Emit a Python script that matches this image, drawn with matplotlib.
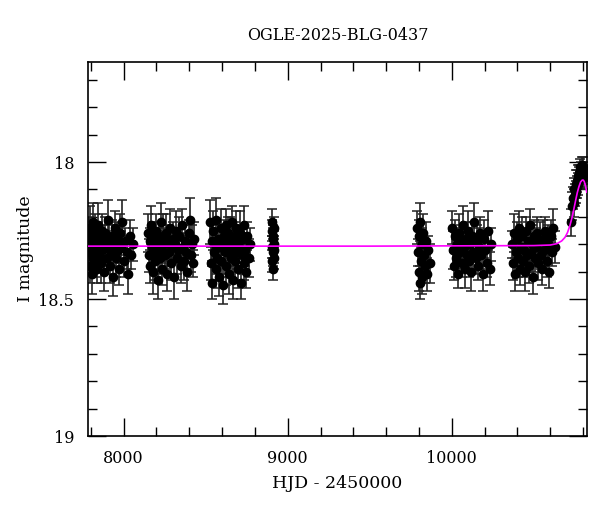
import matplotlib
matplotlib.use('Agg')
import matplotlib.pyplot as plt
from matplotlib.ticker import MultipleLocator, FuncFormatter

# OGLE-2025-BLG-0437 light curve, one block of points per observing season
s1_hjd = [7786, 7790, 7794, 7797, 7801, 7805, 7808, 7812, 7816, 7820, 7823, 7827, 7832, 7836, 7841, 7845,
          7850, 7855, 7860, 7866, 7871, 7877, 7882, 7888, 7893, 7899, 7905, 7911, 7917, 7923, 7929, 7935,
          7941, 7947, 7953, 7960, 7966, 7972, 7979, 7986, 7993, 8001, 8009, 8018, 8027, 8036, 8046, 8055]
s1_mag = [18.33, 18.27, 18.38, 18.24, 18.31, 18.41, 18.29, 18.35, 18.22, 18.30, 18.36, 18.26, 18.33, 18.39, 18.28, 18.23,
          18.34, 18.30, 18.37, 18.25, 18.32, 18.28, 18.40, 18.26, 18.31, 18.35, 18.21, 18.29, 18.38, 18.33, 18.27, 18.42,
          18.30, 18.24, 18.35, 18.28, 18.32, 18.39, 18.26, 18.31, 18.22, 18.36, 18.29, 18.33, 18.41, 18.27, 18.34, 18.30]
s1_err = [0.06, 0.07, 0.06, 0.08, 0.05, 0.07, 0.06, 0.06, 0.07, 0.05, 0.06, 0.07, 0.06, 0.05, 0.06, 0.08,
          0.06, 0.05, 0.07, 0.06, 0.06, 0.05, 0.07, 0.06, 0.05, 0.06, 0.07, 0.06, 0.06, 0.05, 0.06, 0.07,
          0.05, 0.06, 0.07, 0.06, 0.05, 0.06, 0.07, 0.06, 0.08, 0.06, 0.05, 0.06, 0.07, 0.06, 0.05, 0.06]

s2_hjd = [8148, 8153, 8158, 8163, 8168, 8173, 8178, 8183, 8188, 8193, 8198, 8203, 8208, 8214, 8219, 8225,
          8230, 8236, 8241, 8247, 8253, 8259, 8265, 8271, 8277, 8283, 8289, 8295, 8301, 8307, 8313, 8320,
          8326, 8333, 8340, 8347, 8354, 8361, 8368, 8375, 8382, 8389, 8396, 8403, 8410, 8417, 8424, 8431]
s2_mag = [18.26, 18.34, 18.29, 18.38, 18.23, 18.31, 18.40, 18.27, 18.33, 18.36, 18.25, 18.30, 18.43, 18.28, 18.35, 18.22,
          18.32, 18.39, 18.27, 18.30, 18.34, 18.26, 18.41, 18.29, 18.33, 18.24, 18.37, 18.31, 18.28, 18.42, 18.30, 18.25,
          18.35, 18.32, 18.27, 18.38, 18.23, 18.31, 18.36, 18.29, 18.33, 18.40, 18.26, 18.21, 18.34, 18.30, 18.37, 18.28]
s2_err = [0.07, 0.06, 0.05, 0.06, 0.07, 0.06, 0.08, 0.05, 0.06, 0.07, 0.06, 0.05, 0.07, 0.06, 0.06, 0.07,
          0.05, 0.06, 0.08, 0.06, 0.05, 0.07, 0.06, 0.06, 0.05, 0.07, 0.06, 0.05, 0.06, 0.08, 0.06, 0.07,
          0.06, 0.05, 0.07, 0.06, 0.06, 0.05, 0.07, 0.06, 0.06, 0.07, 0.05, 0.08, 0.06, 0.07, 0.05, 0.06]

s3_hjd = [8526, 8531, 8536, 8541, 8546, 8551, 8556, 8561, 8566, 8571, 8576, 8581, 8586, 8591, 8596, 8601,
          8606, 8611, 8616, 8621, 8626, 8631, 8636, 8641, 8646, 8651, 8656, 8661, 8666, 8671, 8676, 8681,
          8686, 8691, 8696, 8701, 8706, 8711, 8716, 8721, 8726, 8731, 8736, 8741, 8748, 8755, 8762, 8770]
s3_mag = [18.22, 18.37, 18.29, 18.44, 18.25, 18.33, 18.30, 18.39, 18.21, 18.35, 18.28, 18.42, 18.31, 18.24, 18.36, 18.29,
          18.45, 18.27, 18.33, 18.23, 18.38, 18.30, 18.26, 18.41, 18.32, 18.28, 18.35, 18.22, 18.43, 18.30, 18.27, 18.36,
          18.24, 18.33, 18.39, 18.29, 18.31, 18.26, 18.44, 18.34, 18.28, 18.37, 18.23, 18.32, 18.40, 18.27, 18.35, 18.30]
s3_err = [0.08, 0.06, 0.07, 0.06, 0.07, 0.05, 0.06, 0.07, 0.08, 0.06, 0.05, 0.07, 0.06, 0.07, 0.06, 0.05,
          0.07, 0.06, 0.08, 0.06, 0.07, 0.05, 0.06, 0.07, 0.06, 0.08, 0.05, 0.06, 0.07, 0.06, 0.05, 0.07,
          0.06, 0.06, 0.07, 0.05, 0.06, 0.08, 0.06, 0.07, 0.05, 0.06, 0.07, 0.06, 0.06, 0.05, 0.07, 0.06]

s4_hjd = [8902, 8904, 8905, 8907, 8908, 8910, 8911, 8913, 8914, 8916, 8917, 8919]
s4_mag = [18.25, 18.31, 18.22, 18.36, 18.28, 18.33, 18.39, 18.27, 18.30, 18.35, 18.24, 18.32]
s4_err = [0.04, 0.04, 0.05, 0.04, 0.04, 0.05, 0.04, 0.04, 0.05, 0.04, 0.04, 0.05]

s5_hjd = [9790, 9794, 9798, 9801, 9805, 9809, 9813, 9817, 9821, 9826, 9831, 9836, 9842, 9850, 9858, 9868]
s5_mag = [18.24, 18.33, 18.40, 18.27, 18.44, 18.22, 18.36, 18.30, 18.42, 18.26, 18.34, 18.38, 18.29, 18.41, 18.32, 18.37]
s5_err = [0.06, 0.05, 0.07, 0.06, 0.06, 0.07, 0.05, 0.06, 0.06, 0.07, 0.05, 0.06, 0.07, 0.06, 0.05, 0.07]

s6_hjd = [10002, 10008, 10014, 10020, 10026, 10032, 10038, 10044, 10050, 10056, 10062, 10068, 10074, 10080,
          10086, 10092, 10098, 10104, 10110, 10117, 10124, 10131, 10138, 10145, 10152, 10159, 10166, 10173,
          10180, 10188, 10196, 10204, 10213, 10222, 10232, 10242]
s6_mag = [18.24, 18.32, 18.38, 18.27, 18.35, 18.30, 18.41, 18.26, 18.33, 18.29, 18.37, 18.23, 18.31, 18.39,
          18.28, 18.34, 18.25, 18.36, 18.30, 18.40, 18.27, 18.33, 18.22, 18.35, 18.29, 18.38, 18.31, 18.26,
          18.34, 18.41, 18.28, 18.32, 18.37, 18.25, 18.39, 18.30]
s6_err = [0.06, 0.07, 0.05, 0.06, 0.07, 0.06, 0.05, 0.07, 0.06, 0.06, 0.05, 0.07, 0.06, 0.07,
          0.06, 0.05, 0.07, 0.06, 0.06, 0.07, 0.05, 0.06, 0.07, 0.06, 0.06, 0.05, 0.07, 0.06,
          0.05, 0.06, 0.07, 0.06, 0.05, 0.07, 0.06, 0.06]

s7_hjd = [10368, 10374, 10380, 10386, 10392, 10398, 10404, 10410, 10416, 10422, 10428, 10434, 10440, 10446,
          10452, 10458, 10464, 10470, 10476, 10482, 10488, 10494, 10500, 10507, 10514, 10521, 10528, 10535,
          10542, 10549, 10556, 10563, 10570, 10578, 10586, 10594, 10602, 10611, 10620, 10630]
s7_mag = [18.30, 18.37, 18.26, 18.41, 18.33, 18.28, 18.35, 18.24, 18.39, 18.31, 18.27, 18.36, 18.32, 18.40,
          18.25, 18.34, 18.29, 18.38, 18.23, 18.33, 18.30, 18.42, 18.27, 18.35, 18.31, 18.26, 18.37, 18.29,
          18.34, 18.39, 18.28, 18.32, 18.25, 18.36, 18.30, 18.40, 18.27, 18.33, 18.24, 18.31]
s7_err = [0.05, 0.06, 0.07, 0.06, 0.05, 0.06, 0.07, 0.06, 0.06, 0.05, 0.07, 0.06, 0.06, 0.07,
          0.05, 0.06, 0.07, 0.06, 0.06, 0.05, 0.07, 0.06, 0.06, 0.05, 0.07, 0.06, 0.06, 0.07,
          0.05, 0.06, 0.07, 0.06, 0.05, 0.06, 0.07, 0.06, 0.06, 0.05, 0.07, 0.06]

s8_hjd = [10728, 10735, 10740, 10744, 10748, 10752, 10756, 10759, 10762, 10765, 10768, 10771, 10774,
          10777, 10780, 10783, 10786, 10789, 10792, 10795, 10798, 10801, 10804, 10807, 10810]
s8_mag = [18.22, 18.16, 18.13, 18.15, 18.10, 18.12, 18.08, 18.11, 18.07, 18.09, 18.05, 18.08, 18.04,
          18.06, 18.02, 18.05, 18.03, 18.06, 18.01, 18.04, 18.02, 18.05, 18.03, 18.06, 18.04]
s8_err = [0.05, 0.05, 0.04, 0.05, 0.04, 0.04, 0.05, 0.04, 0.04, 0.04, 0.04, 0.04, 0.03,
          0.04, 0.03, 0.04, 0.03, 0.04, 0.03, 0.03, 0.04, 0.03, 0.03, 0.04, 0.03]

# microlensing model curve
model_hjd = [7783, 8500, 9000, 9500, 10000, 10500, 10600, 10640, 10670, 10690, 10705, 10720, 10732,
             10744, 10755, 10765, 10775, 10785, 10795, 10802, 10808, 10815, 10823]
model_mag = [18.307, 18.307, 18.307, 18.307, 18.306, 18.305, 18.303, 18.298, 18.288, 18.275, 18.258, 18.232, 18.205,
             18.172, 18.14, 18.112, 18.09, 18.073, 18.066, 18.066, 18.072, 18.088, 18.11]

seasons = [(s1_hjd, s1_mag, s1_err), (s2_hjd, s2_mag, s2_err), (s3_hjd, s3_mag, s3_err),
           (s4_hjd, s4_mag, s4_err), (s5_hjd, s5_mag, s5_err), (s6_hjd, s6_mag, s6_err),
           (s7_hjd, s7_mag, s7_err), (s8_hjd, s8_mag, s8_err)]

plt.rcParams['font.family'] = 'DejaVu Serif'

fig = plt.figure(figsize=(6.0, 5.12), dpi=100)
ax = fig.add_axes([0.1467, 0.1484, 0.8313, 0.7305])

for hjd, mag, err in seasons:
    ax.errorbar(hjd, mag, yerr=err, fmt='o', color='black', ms=6, ecolor='#222222',
                elinewidth=1.2, capsize=3.5, capthick=1.1, zorder=2)

ax.plot(model_hjd, model_mag, color='#ff00ff', lw=1.2, zorder=3)

ax.set_xlim(7783, 10823)
ax.set_ylim(19.0, 17.635)

ax.xaxis.set_major_locator(MultipleLocator(1000))
ax.xaxis.set_minor_locator(MultipleLocator(200))
ax.yaxis.set_major_locator(MultipleLocator(0.5))
ax.yaxis.set_minor_locator(MultipleLocator(0.1))
ax.yaxis.set_major_formatter(FuncFormatter(lambda v, p: f'{v:g}'))

ax.tick_params(which='both', direction='in', top=True, right=True, width=1.0, labelsize=11.5)
ax.tick_params(which='major', length=13, pad=10)
ax.tick_params(which='minor', length=6.5)
for sp in ax.spines.values():
    sp.set_linewidth(1.2)

ax.set_title('OGLE-2025-BLG-0437', fontsize=11.5, pad=16)
ax.set_xlabel('HJD - 2450000', fontsize=12.5, labelpad=6)
ax.set_ylabel('I magnitude', fontsize=12.5, labelpad=3)

fig.savefig('out.png', dpi=100)
